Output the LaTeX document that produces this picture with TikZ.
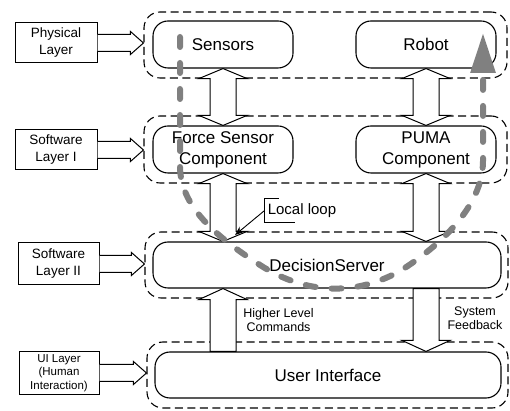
\documentclass[tikz,border=0pt]{standalone}
\usepackage{fontspec}
\setmainfont{Liberation Sans}
\usetikzlibrary{calc,arrows.meta}

\tikzset{
  layer/.style={draw,line width=1.1pt,dash pattern=on 8pt off 4.5pt,rounded corners=16pt,
    minimum width=363pt,minimum height=66pt},
  unitbox/.style={draw,line width=1.1pt,rounded corners=15pt,minimum width=140pt,
    minimum height=47pt,align=center,font=\fontsize{17}{21}\selectfont},
  layertag/.style={draw,line width=1pt,minimum width=82pt,minimum height=40pt,
    align=center,font=\fontsize{13.5}{17}\selectfont},
  blockarrow/.style={draw,line width=1pt,fill=white},
  loopline/.style={draw=gray,line width=6pt,line cap=round,dash pattern=on 10pt off 16pt,
    -{Triangle[length=40pt,width=24pt]}},
  note/.style={align=center,font=\fontsize{12.5}{14}\selectfont}
}

% hollow arrow from a tag box to its layer
\newcommand\sidearrow[2]{%
  \draw[blockarrow] ($(#1)+(0,8.5)$) -- ($(#1 -| #2)+(-13,8.5)$) -- ++(0,3) -- (#1 -| #2)
    -- ++(-13,-11.5) -- ++(0,3) -- ($(#1)+(0,-8.5)$);}
% hollow arrow with two heads, #1 above #2
\newcommand\twoway[2]{%
  \draw[blockarrow] (#1) -- ++(24,-10) -- ++(-11,0) -- ($(#2)+(13,10)$) -- ++(11,0) -- (#2)
    -- ++(-24,10) -- ++(11,0) -- ($(#1)+(-13,-10)$) -- ++(-11,0) -- cycle;}
% hollow arrow, head up at #1, tail at #2
\newcommand\headup[2]{%
  \draw[blockarrow] (#1) -- ++(24,-11) -- ++(-11,0) -- ($(#2)+(13,0)$) -- ++(-26,0)
    -- ($(#1)+(-13,-11)$) -- ++(-11,0) -- cycle;}
% hollow arrow, tail at #1, head down at #2
\newcommand\headdown[2]{%
  \draw[blockarrow] (#2) -- ++(24,11) -- ++(-11,0) -- ($(#1)+(13,0)$) -- ++(-26,0)
    -- ($(#2)+(-13,11)$) -- ++(-11,0) -- cycle;}

\begin{document}
\begin{tikzpicture}[x=1pt,y=1pt]
\useasboundingbox (0,0) rectangle (510,411);
%
% layers
\node[layer] (phys) at (325.5,366) {};
\node[layer,minimum height=67pt] (sw1) at (325.5,261.5) {};
\node[layer] (sw2) at (326.5,146) {};
\node[layer,minimum width=361pt] (uil) at (327.5,36) {};
%
% components
\node[unitbox] (sens) at (223,366.5) {Sensors};
\node[unitbox] (robot) at (426,366.5) {Robot};
\node[unitbox] (fsc) at (223,261.5) {Force Sensor\\Component};
\node[unitbox] (puma) at (426,261.5) {PUMA\\Component};
\node[unitbox,minimum width=348pt,minimum height=46pt] (ds) at (327,146) {DecisionServer};
\node[unitbox,minimum width=346pt,minimum height=46pt] (ui) at (328,36) {User Interface};
%
% layer tags
\node[layertag] (tphys) at (56,368) {Physical\\Layer};
\node[layertag] (tsw1) at (56,261) {Software\\Layer I};
\node[layertag,minimum width=81pt,minimum height=42pt] (tsw2) at (58.5,147) {Software\\Layer II};
\node[layertag,minimum width=80pt,font=\fontsize{11.5}{13.5}\selectfont] (tui) at (59,38)
  {UI Layer\\(Human\\Interaction)};
%
\sidearrow{tphys.east}{phys.west}
\sidearrow{tsw1.east}{sw1.west}
\sidearrow{tsw2.east}{sw2.west}
\sidearrow{tui.east}{uil.west}
%
\twoway{sens.south}{fsc.north}
\twoway{robot.south}{puma.north}
\twoway{fsc.south}{ds.north -| fsc.south}
\twoway{puma.south}{ds.north -| puma.south}
\headup{ds.south -| fsc.south}{ui.north -| fsc.south}
\headdown{ds.south -| puma.south}{ui.north -| puma.south}
%
\node[note] (cmd) at (278.5,91) {Higher Level\\Commands};
\node[note] (fb) at (475,93) {System\\Feedback};
%
% local loop
\draw[loopline] (180,374) -- (180,245) .. controls (180,205) and (215,175) .. (260,146)
  .. controls (300,120) and (350,112) .. (400,140)
  .. controls (440,165) and (483,205) .. (483,250) -- (483,378);
%
\node[font=\fontsize{15}{17}\selectfont,minimum height=23pt,inner xsep=3pt] (ll) at (302,200.5) {Local loop};
\draw[line width=0.9pt] ([xshift=14pt]ll.north west) -- (ll.north west) -- (ll.south west) -- ++(30,0);
\coordinate (lltip) at (235,176);
\draw[line width=0.9pt,-{Stealth[length=9pt,width=7pt]}] (ll.west) -- (lltip);
\end{tikzpicture}
\end{document}
